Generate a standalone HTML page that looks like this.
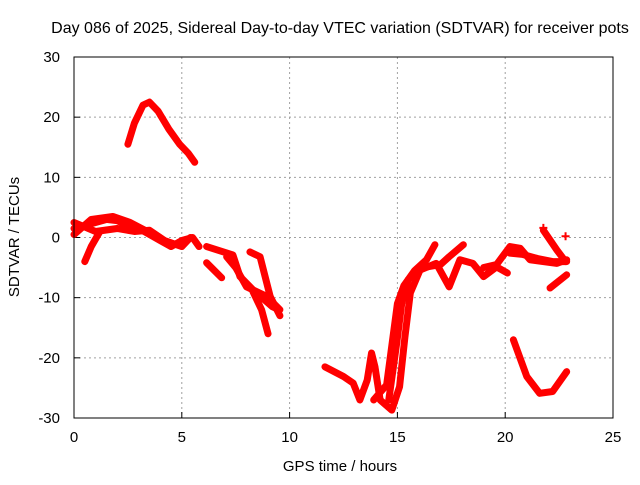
<!DOCTYPE html>
<html><head><meta charset="utf-8"><style>
body{margin:0;background:#fff;}
svg text{font-family:"Liberation Sans",Arial,sans-serif;font-size:15px;fill:#000;}
</style></head><body>
<svg id="chart" width="640" height="480" xmlns="http://www.w3.org/2000/svg">
<rect width="640" height="480" fill="#fff"/>
<text x="340" y="33" text-anchor="middle" style="font-size:16px">Day 086 of 2025, Sidereal Day-to-day VTEC variation (SDTVAR) for receiver pots</text>
<g id="grid"></g>
<g id="ticks"></g>
<g id="series"></g>
<rect x="74" y="57" width="539" height="361" fill="none" stroke="#000" stroke-width="1"/>
<text x="340" y="471" text-anchor="middle">GPS time / hours</text>
<text x="0" y="0" transform="translate(19,237) rotate(-90)" text-anchor="middle">SDTVAR / TECUs</text>
</svg>
<script>
const xTicks=[0,5,10,15,20,25];
const yTicks=[-30,-20,-10,0,10,20,30];
const trackA=[[2.5,15.5],[2.8,19],[3.2,22],[3.5,22.5],[3.9,21],[4.4,18],[4.9,15.5],[5.3,14],[5.6,12.5]];
const trackB=[[0,1.5],[0.5,2],[1,2.5],[1.5,3],[2,2.8],[2.5,2],[3,1.5],[3.5,0.5],[4,-0.5],[4.5,-1.5],[5,-0.5],[5.5,0],[5.8,-1.5]];
const trackB2=[[0,0.5],[0.8,3],[1.8,3.5],[2.6,2.5],[3.4,1]];
const trackB3=[[0,2.5],[1,1],[2,1.5],[2.8,1],[3.5,1.2],[4.2,-0.5],[5,-1.5],[5.4,0]];
const trackC=[[1.2,1],[0.8,-1.5],[0.5,-4]];
const trackD1=[[6.15,-1.5],[7.37,-2.9],[7.7,-6.5],[8.3,-8.7],[9.2,-11.5],[9.5,-12]];
const trackD2=[[7.08,-3.2],[7.5,-5],[8.0,-8.2],[8.94,-9.8],[9.55,-12]];
const trackD3=[[8.16,-2.4],[8.63,-3.2],[9.1,-9.8],[9.55,-13]];
const trackD4=[[8.3,-9],[8.7,-12],[9.0,-16]];
const trackD5=[[6.15,-4.2],[6.85,-6.7]];
const trackE=[[11.64,-21.5],[12.5,-23.1],[12.95,-24.2],[13.26,-27],[13.6,-23.7],[13.8,-19.2],[13.96,-21.5],[14.2,-27],[14.74,-28.7],[15.1,-24.8],[15.35,-16.5],[15.6,-9.2],[16.05,-5.4],[16.8,-4.3],[17.4,-8.2],[17.9,-3.7],[18.5,-4.3],[19.0,-6.5],[19.6,-4.9],[20.1,-5.9]];
const trackE2=[[13.9,-27],[14.5,-24.5],[15.0,-11],[15.3,-8],[15.8,-5.5],[16.35,-3.7],[16.74,-1.2]];
const trackE3=[[14.6,-27],[14.97,-17.5],[15.2,-11],[15.5,-7],[16.2,-5],[17.0,-4.5],[17.4,-3.2],[18.06,-1.2]];
const trackF=[[19.0,-5],[19.6,-4.5],[20.22,-1.5],[20.7,-1.8],[21.15,-3.7],[21.75,-4],[22.4,-4.3],[22.85,-3.7]];
const trackF2=[[20.22,-2.6],[20.8,-2.8],[21.5,-3.5],[22.2,-4],[22.85,-4]];
const trackG=[[21.77,1.2],[22.4,-2.1],[22.8,-4]];
const trackH=[[22.08,-8.4],[22.85,-6.2]];
const trackI=[[20.38,-17],[21.0,-23.1],[21.6,-25.9],[22.2,-25.6],[22.85,-22.3]];
const points=[[22.8,0.2],[21.77,1.6]];
const tracks=[trackA,trackB,trackB2,trackB3,trackC,trackD1,trackD2,trackD3,trackD4,trackD5,trackE,trackE2,trackE3,trackF,trackF2,trackG,trackH,trackI];

const NS="http://www.w3.org/2000/svg";
const X0=74,X1=613,Y0=418,Y1=57;
const xs=h=>X0+(h-0)/(25-0)*(X1-X0);
const ys=v=>Y0-(v+30)/60*(Y0-Y1);
const grid=document.getElementById('grid'),ticks=document.getElementById('ticks'),series=document.getElementById('series');
function mk(tag,attrs,parent){const e=document.createElementNS(NS,tag);for(const k in attrs)e.setAttribute(k,attrs[k]);parent.appendChild(e);return e;}
xTicks.forEach(t=>{const x=xs(t);
 if(t>0&&t<25){const g=mk('line',{x1:x,x2:x,y1:Y1,y2:Y0,stroke:'#a0a0a0','stroke-dasharray':'2,3'},grid);
 
 }
 const l=mk('line',{x1:x,x2:x,y1:Y0,y2:Y0-6,stroke:'#000'},ticks);
 
 
 const tx=mk('text',{x:x,y:Y0+24,'text-anchor':'middle'},ticks);tx.textContent=t;
 
 
});
yTicks.forEach(t=>{const y=ys(t);
 if(t>-30&&t<30){const g=mk('line',{x1:X0,x2:X1,y1:y,y2:y,stroke:'#a0a0a0','stroke-dasharray':'2,3'},grid);
 
 }
 const l=mk('line',{x1:X0,x2:X0+6,y1:y,y2:y,stroke:'#000'},ticks);
 
 
 const tx=mk('text',{x:X0-14,y:y+5,'text-anchor':'end'},ticks);tx.textContent=t;
 
 
});
tracks.forEach(tr=>{
 const p=mk('polyline',{points:tr.map(d=>xs(d[0])+','+ys(d[1])).join(' '),fill:'none',stroke:'#ff0000','stroke-width':7,'stroke-linejoin':'round','stroke-linecap':'round'},series);
 
 
});
points.forEach(d=>{const x=xs(d[0]),y=ys(d[1]);
 const p=mk('path',{d:`M${x-4},${y}H${x+4}M${x},${y-4}V${y+4}`,stroke:'#ff0000','stroke-width':2},series);
 
 
});
</script>
</body></html>
